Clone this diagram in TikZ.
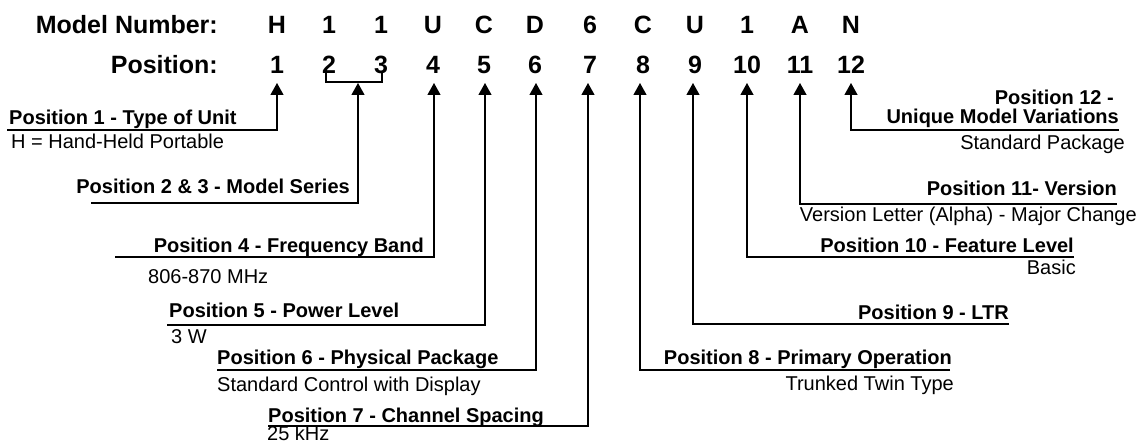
\documentclass[tikz,border=0pt]{standalone}
\usepackage{fontspec}
\setmainfont{Liberation Sans}
\usetikzlibrary{arrows.meta}
\begin{document}
\begin{tikzpicture}[x=1pt,y=-1pt,
  head/.style={font=\fontsize{25}{30}\selectfont\bfseries, inner sep=0, anchor=base},
  lab/.style={font=\fontsize{20}{24}\selectfont\bfseries, inner sep=0},
  desc/.style={font=\fontsize{20}{24}\selectfont, inner sep=0},
  conn/.style={line width=1.2pt, -{Triangle[width=13pt,length=12pt]}},
  brk/.style={line width=1.2pt}]
\useasboundingbox (0,0) rectangle (1140,443);
% header
\node[head, anchor=base east] (mn) at (218,34) {Model Number:};
\node[head, anchor=base east] (ps) at (218,74) {Position:};
\foreach \x/\c/\n [count=\i] in {277/H/1,329/1/2,381/1/3,433/U/4,484/C/5,535/D/6,590/6/7,643/C/8,695/U/9,747/1/10,800/A/11,851/N/12}{
  \node[head] (m\i) at (\x,34) {\c};
  \node[head] (p\i) at (\x,74) {\n};
}
% bracket for positions 2 and 3
\coordinate (bl) at (326,73);
\coordinate (br) at (382,73);
\draw[brk] (bl) -- ++(0,9) -| (br);
% arrow tips
\coordinate (a1) at (277,83);
\coordinate (a2) at (358,83);
\coordinate (a4) at (434,83);
\coordinate (a5) at (485,83);
\coordinate (a6) at (536,83);
\coordinate (a7) at (588,83);
\coordinate (a8) at (640,83);
\coordinate (a9) at (693,83);
\coordinate (a10) at (747,83);
\coordinate (a11) at (800,83);
\coordinate (a12) at (851,83);
% line starts
\coordinate (s1) at (7,130);
\coordinate (s2) at (91,203);
\coordinate (s4) at (115,257);
\coordinate (s5) at (167,325);
\coordinate (s6) at (217,370);
\coordinate (s7) at (268,426);
\coordinate (s8) at (950,370);
\coordinate (s9) at (1009,324);
\coordinate (s10) at (1074,257);
\coordinate (s11) at (1117,204);
\coordinate (s12) at (1119,130);
% labels left side
\node[lab, anchor=base west] (l1) at (9,125) {Position 1 - Type of Unit};
\node[desc, anchor=base west] (d1) at (11,149) {H = Hand-Held Portable};
\node[lab, anchor=base east] (l2) at (350,194) {Position 2 \& 3 - Model Series};
\node[lab, anchor=base east] (l4) at (424,253) {Position 4 - Frequency Band};
\node[desc, anchor=base west] (d4) at (148,284) {806-870 MHz};
\node[lab, anchor=base west] (l5) at (169,318) {Position 5 - Power Level};
\node[desc, anchor=base west] (d5) at (171,344) {3 W};
\node[lab, anchor=base west] (l6) at (217,365) {Position 6 - Physical Package};
\node[desc, anchor=base west] (d6) at (217,391) {Standard Control with Display};
\node[lab, anchor=base west] (l7) at (268,422) {Position 7 - Channel Spacing};
\node[desc, anchor=base west] (d7) at (267,440) {25 kHz};
% labels right side
\node[lab, anchor=base east] (l8) at (952,365) {Position 8 - Primary Operation};
\node[desc, anchor=base east] (d8) at (954,390) {Trunked Twin Type};
\node[lab, anchor=base east] (l9) at (1009,320) {Position 9 - LTR};
\node[lab, anchor=base east] (l10) at (1074,253) {Position 10 - Feature Level};
\node[desc, anchor=base east] (d10) at (1076,275) {Basic};
\node[lab, anchor=base east] (l11) at (1117,196) {Position 11- Version};
\node[desc, anchor=base east] (d11) at (1137,222) {Version Letter (Alpha) - Major Change};
\node[lab, anchor=base east] (l12a) at (1114,105) {Position 12 -};
\node[lab, anchor=base east] (l12) at (1119,124) {Unique Model Variations};
\node[desc, anchor=base east] (d12) at (1125,150) {Standard Package};
% connectors
\foreach \k in {1,2,4,5,6,7,8,9,10,11,12}{
  \draw[conn] (s\k) -| (a\k);
}
\end{tikzpicture}
\end{document}
